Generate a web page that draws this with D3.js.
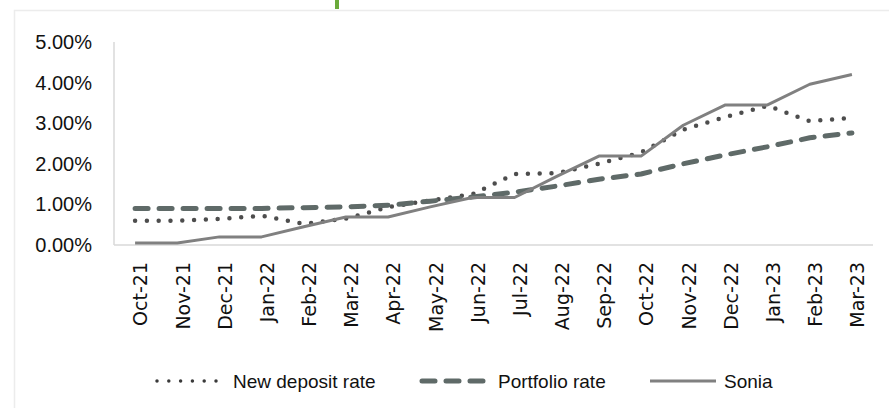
<!DOCTYPE html>
<html>
<head>
<meta charset="utf-8">
<script src="https://cdn.jsdelivr.net/npm/d3@7"></script>
<style>
  html, body { margin: 0; padding: 0; background: #fff; }
  svg { display: block; }
</style>
</head>
<body>
<svg id="chart" width="889" height="408"></svg>
<script>
const months = ['Oct-21', 'Nov-21', 'Dec-21', 'Jan-22', 'Feb-22', 'Mar-22', 'Apr-22', 'May-22', 'Jun-22',
                'Jul-22', 'Aug-22', 'Sep-22', 'Oct-22', 'Nov-22', 'Dec-22', 'Jan-23', 'Feb-23', 'Mar-23']
const newDeposit = [0.60, 0.60, 0.64, 0.72, 0.52, 0.65, 0.93, 1.10, 1.25, 1.75, 1.77, 2.00, 2.28, 2.84, 3.15, 3.43, 3.05, 3.13]
const portfolio  = [0.90, 0.90, 0.90, 0.90, 0.92, 0.94, 0.98, 1.08, 1.18, 1.30, 1.45, 1.62, 1.75, 2.00, 2.22, 2.42, 2.64, 2.76]
const sonia      = [0.05, 0.05, 0.20, 0.20, 0.45, 0.69, 0.69, 0.94, 1.17, 1.17, 1.69, 2.19, 2.19, 2.95, 3.45, 3.45, 3.96, 4.20]
const yTicks = [0, 0.01, 0.02, 0.03, 0.04, 0.05]

const series = [
  {name: 'New deposit rate', values: newDeposit, color: '#3a3a3a', width: 4.5, dash: '0 11.8', cap: 'round', opacity: 0.9},
  {name: 'Portfolio rate', values: portfolio, color: '#5f6a68', width: 5, dash: '13 11', cap: 'round', opacity: 1},
  {name: 'Sonia', values: sonia, color: '#808080', width: 3, dash: null, cap: 'butt', opacity: 1}
]

const svg = d3.select('#chart')
const plotL = 114, plotR = 873, plotT = 42, plotB = 245

// outer frame
svg.append('rect').attr('x', 14.5).attr('y', 10.5).attr('width', 900).attr('height', 420)
  .attr('fill', 'none').attr('stroke', '#ececec').attr('stroke-width', 1.5)
svg.append('rect').attr('x', 335).attr('y', 0).attr('width', 4).attr('height', 9).attr('fill', '#6aaa3a')

const x = d3.scalePoint().domain(months).range([plotL, plotR]).padding(0.5)
const y = d3.scaleLinear().domain([0, 0.05]).range([plotB, plotT])

// y axis labels
const yAxis = svg.append('g').attr('transform', `translate(${plotL},0)`)
  .call(d3.axisLeft(y).tickValues(yTicks).tickFormat(d3.format('.2%')).tickSize(0).tickPadding(22))
yAxis.select('.domain').remove()
yAxis.selectAll('text').attr('font-family', 'Liberation Sans, sans-serif').attr('font-size', 20).attr('fill', '#111')

svg.append('line').attr('x1', plotL).attr('x2', plotL).attr('y1', plotT).attr('y2', plotB)
  .attr('stroke', '#d9d9d9').attr('stroke-width', 1.5)
svg.append('line').attr('x1', plotL).attr('x2', plotR).attr('y1', plotB).attr('y2', plotB)
  .attr('stroke', '#d9d9d9').attr('stroke-width', 1.5)

// x axis labels
const xAxis = svg.append('g').attr('transform', `translate(0,${plotB})`)
  .call(d3.axisBottom(x).tickSize(0).tickPadding(0))
xAxis.select('.domain').remove()
xAxis.selectAll('text')
  .attr('font-family', 'DejaVu Sans, sans-serif').attr('font-size', 19).attr('fill', '#111')
  .attr('text-anchor', 'end').attr('dy', '0.36em')
  .attr('transform', 'translate(5,17) rotate(-90)')
  .attr('x', 0).attr('y', 0)

// lines
const line = d3.line().x((d, i) => x(months[i])).y(d => y(d / 100))
svg.append('g').selectAll('path').data(series).join('path')
  .attr('d', d => line(d.values))
  .attr('fill', 'none')
  .attr('stroke', d => d.color)
  .attr('stroke-width', d => d.width)
  .attr('stroke-dasharray', d => d.dash)
  .attr('stroke-linecap', d => d.cap)
  .attr('stroke-linejoin', 'round')
  .attr('opacity', d => d.opacity)

// legend
const legendX = [155, 420, 648]
const legend = svg.append('g').selectAll('g').data(series).join('g')
  .attr('transform', (d, i) => `translate(${legendX[i]},381)`)
legend.append('line').attr('x1', 2).attr('x2', d => d.name === 'Sonia' ? 68 : 64).attr('y1', 0).attr('y2', 0)
  .attr('stroke', d => d.color)
  .attr('stroke-width', d => d.name === 'New deposit rate' ? 3.5 : d.width)
  .attr('stroke-dasharray', d => d.dash)
  .attr('stroke-linecap', d => d.cap)
legend.append('text').attr('x', d => d.name === 'Sonia' ? 76 : 78).attr('y', 0).attr('dy', '0.35em')
  .attr('font-family', 'Liberation Sans, sans-serif').attr('font-size', 19).attr('fill', '#111')
  .text(d => d.name)
</script>
</body>
</html>
